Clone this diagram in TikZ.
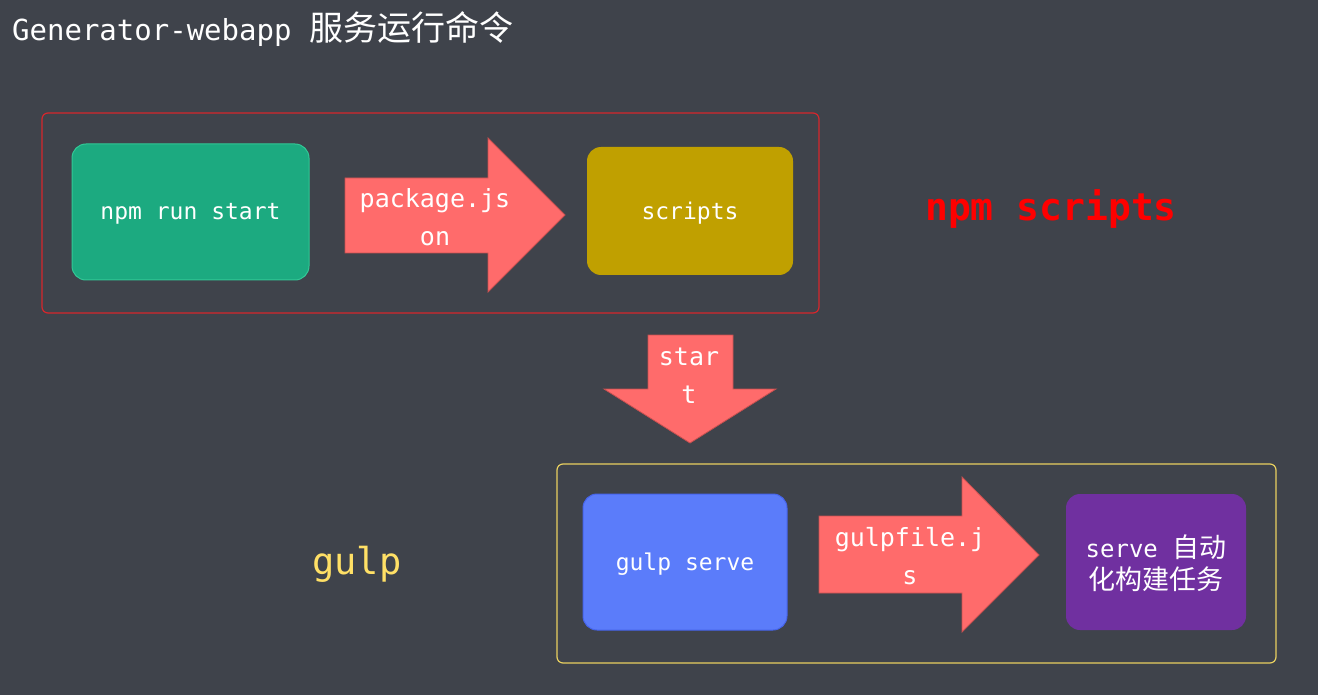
\documentclass[tikz,border=0pt]{standalone}
\usepackage{fontspec}
\setmainfont{DejaVu Sans Mono}
\newfontfamily\cjk{Noto Sans CJK SC}
\definecolor{bg}{RGB}{63,67,75}
\definecolor{frameRed}{RGB}{214,38,44}
\definecolor{frameYel}{RGB}{232,208,96}
\definecolor{arrowFill}{RGB}{255,107,107}
\definecolor{arrowEdge}{RGB}{200,80,80}
\definecolor{greenBox}{RGB}{28,170,128}
\definecolor{greenEdge}{RGB}{50,200,150}
\definecolor{yelBox}{RGB}{192,160,0}
\definecolor{blueBox}{RGB}{91,124,250}
\definecolor{blueEdge}{RGB}{70,100,235}
\definecolor{purpleBox}{RGB}{112,48,160}
\definecolor{labRed}{RGB}{255,0,0}
\definecolor{labYel}{RGB}{255,224,102}
\tikzset{
  frame/.style={draw, line width=1.2pt, rounded corners=6pt},
  box/.style={rounded corners=14pt, line width=1pt},
  bigarrow/.style={fill=arrowFill, draw=arrowEdge, line width=0.8pt},
  wtxt/.style={text=white, inner sep=0pt, anchor=center},
  arrtxt/.style={wtxt, align=center, font=\fontsize{25}{38}\selectfont},
}
\begin{document}
\begin{tikzpicture}[x=1pt,y=-1pt]
\fill[bg] (0,0) rectangle (1318,695);
\useasboundingbox (0,0) rectangle (1318,695);

% title
\node[wtxt, anchor=west] (title) at (12,29) {\fontsize{29}{32}\selectfont Generator-webapp {\cjk\fontsize{34}{36}\selectfont 服务运行命令}};

% frames
\draw[frame, draw=frameRed] (42,113) rectangle (819,313);
\draw[frame, draw=frameYel] (557,464) rectangle (1276,663);

% boxes
\filldraw[box, fill=greenBox, draw=greenEdge] (72,144) rectangle (309,280);
\node[wtxt] (npm) at (190.5,214) {\fontsize{23}{26}\selectfont npm run start};
\fill[box, fill=yelBox] (587,147) rectangle (793,275);
\node[wtxt] (scripts) at (690,213) {\fontsize{23}{26}\selectfont scripts};
\filldraw[box, fill=blueBox, draw=blueEdge] (583,494) rectangle (787,630);
\node[wtxt] (gserve) at (685,564) {\fontsize{23}{26}\selectfont gulp serve};
\fill[box, fill=purpleBox] (1066,494) rectangle (1246,630);
\node[wtxt, align=center, font=\fontsize{24}{32}\selectfont] (task) at (1156,563) {serve {\cjk\fontsize{27}{32}\selectfont 自动}\\{\cjk\fontsize{27}{32}\selectfont 化构建任务}};

% block arrow 1
\draw[bigarrow] (345,178) -- (488,178) -- (488,138) -- (565,215) -- (488,292) -- (488,253) -- (345,253) -- cycle;
\node[arrtxt] (pkg) at (435,217) {package.js\\on};

% down arrow
\draw[bigarrow] (648,335) -- (733,335) -- (733,389) -- (776,389) -- (690,443) -- (604,389) -- (648,389) -- cycle;
\node[arrtxt] (start) at (689,376) {star\\t};

% block arrow 2
\draw[bigarrow] (819,516) -- (962,516) -- (962,477) -- (1039,555) -- (962,632) -- (962,593) -- (819,593) -- cycle;
\node[arrtxt] (gfile) at (910,556) {gulpfile.j\\s};

% side labels
\node[text=labRed, inner sep=0pt] (npmscripts) at (1051,209) {\fontsize{38}{40}\selectfont\bfseries npm scripts};
\node[text=labYel, inner sep=0pt] (gulp) at (357,564) {\fontsize{37}{40}\selectfont gulp};
\end{tikzpicture}
\end{document}
